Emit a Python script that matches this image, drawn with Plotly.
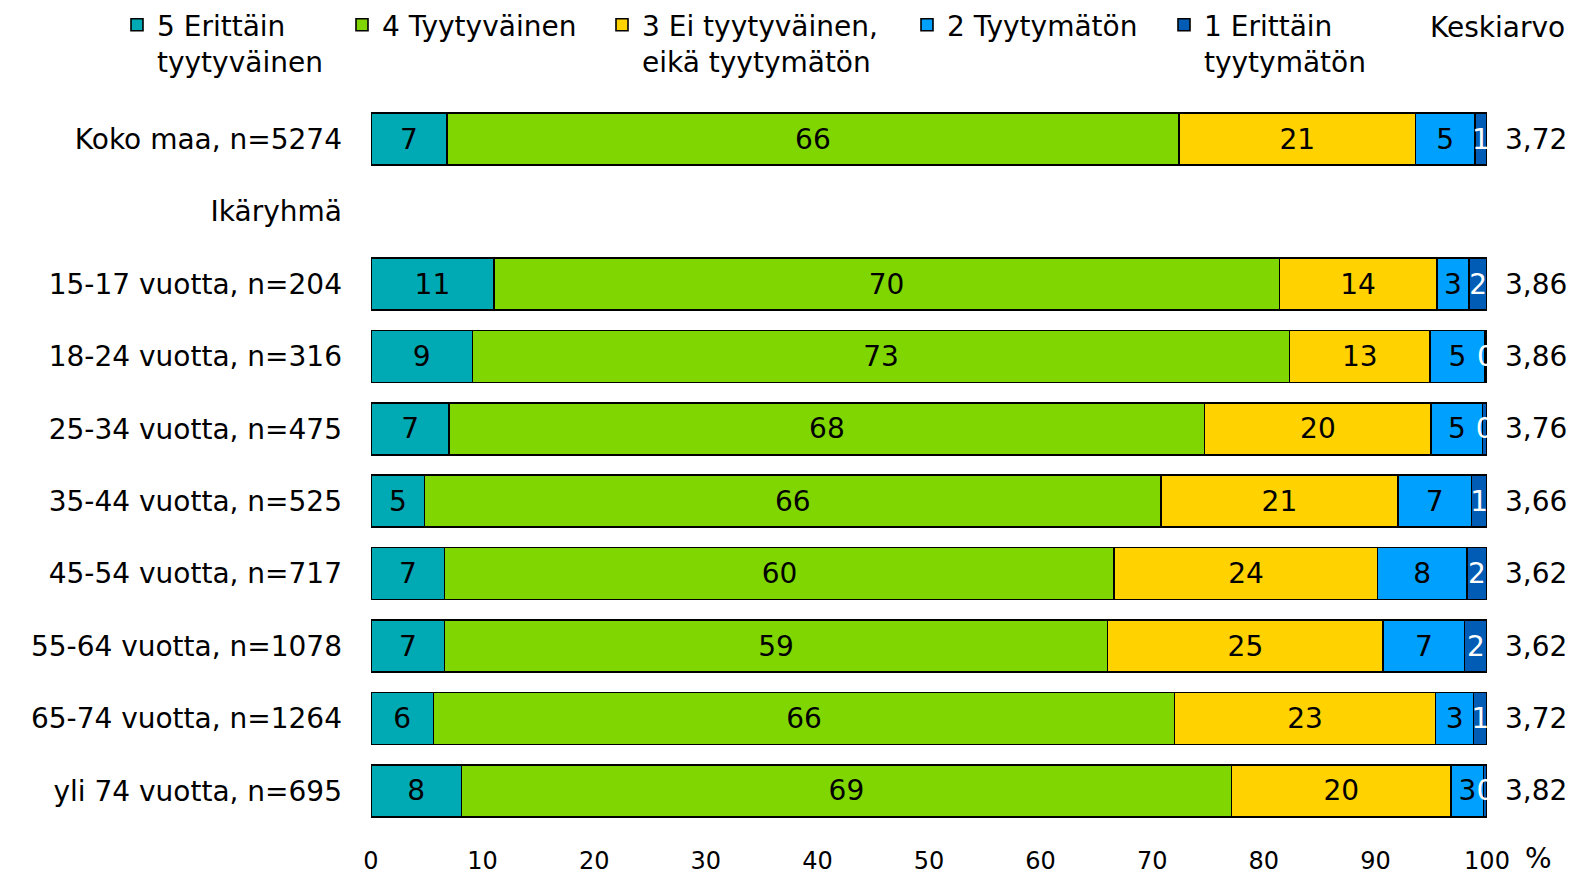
import plotly.graph_objects as go

categories = ["Koko maa, n=5274", "Ikäryhmä", "15-17 vuotta, n=204", "18-24 vuotta, n=316",
              "25-34 vuotta, n=475", "35-44 vuotta, n=525", "45-54 vuotta, n=717",
              "55-64 vuotta, n=1078", "65-74 vuotta, n=1264", "yli 74 vuotta, n=695"]

v5 = [6.8, None, 11.0, 9.1, 7.0, 4.8, 6.6, 6.6, 5.6, 8.1]
v4 = [65.6, None, 70.4, 73.2, 67.7, 66.0, 60.0, 59.4, 66.4, 69.0]
v3 = [21.2, None, 14.1, 12.6, 20.3, 21.2, 23.6, 24.7, 23.4, 19.7]
v2 = [5.3, None, 2.9, 4.9, 4.6, 6.6, 8.0, 7.3, 3.4, 2.9]
v1 = [1.1, None, 1.6, 0.2, 0.4, 1.4, 1.8, 2.0, 1.2, 0.3]
means = ["3,72", "", "3,86", "3,86", "3,76", "3,66", "3,62", "3,62", "3,72", "3,82"]

series_names = ["5 Erittäin<br>tyytyväinen", "4 Tyytyväinen", "3 Ei tyytyväinen,<br>eikä tyytymätön",
                "2 Tyytymätön", "1 Erittäin<br>tyytymätön"]
series_values = [v5, v4, v3, v2, v1]
colors = ["#00AAB4", "#80D600", "#FFD200", "#00A0FF", "#005CB4"]
text_colors = ["black", "black", "black", "black", "white"]
x_ticks = [0, 10, 20, 30, 40, 50, 60, 70, 80, 90, 100]

FONT = "DejaVu Sans, Verdana, sans-serif"
FS = 28

W, H = 1577, 875
L, R, T, B = 371, 90, 103, 48
pw = W - L - R
ph = H - T - B

fig = go.Figure()
legend_ids = ["legend", "legend2", "legend3", "legend4", "legend5"]
legend_px = [117, 342, 602, 907, 1164]

for name, vals, col, tc, lid in zip(series_names, series_values, colors, text_colors, legend_ids):
    fig.add_trace(go.Bar(
        y=categories, x=vals, name=name, orientation="h",
        marker=dict(color=col, line=dict(color="black", width=1.6)),
        text=vals, texttemplate="%{x:.0f}", textposition="inside",
        insidetextanchor="middle", textangle=0, constraintext="none",
        textfont=dict(color=tc, size=FS, family=FONT),
        cliponaxis=True, hoverinfo="skip", legend=lid,
    ))

for cat, m in zip(categories, means):
    if m:
        fig.add_annotation(x=1, xref="paper", y=cat, yref="y", text=m, showarrow=False,
                           xanchor="left", xshift=16, font=dict(size=FS, family=FONT, color="black"))

fig.add_annotation(x=1, xref="paper", y=1, yref="paper", text="Keskiarvo", showarrow=False,
                   xanchor="right", yanchor="middle", xshift=80, yshift=76,
                   font=dict(size=FS, family=FONT, color="black"))
fig.add_annotation(x=1, xref="paper", y=0, yref="paper", text="%", showarrow=False,
                   xanchor="left", yanchor="middle", xshift=36, yshift=-31,
                   font=dict(size=FS, family=FONT, color="black"))

layout_legends = {}
for lid, px in zip(legend_ids, legend_px):
    layout_legends[lid] = dict(
        x=(px - L) / pw, xanchor="left", y=1 + T / ph, yanchor="top",
        orientation="h", valign="top", bgcolor="rgba(0,0,0,0)",
        font=dict(size=FS, family=FONT, color="black"), traceorder="normal",
    )

fig.update_layout(
    width=W, height=H, barmode="stack", bargap=0.28,
    margin=dict(l=L, r=R, t=T, b=B, autoexpand=False),
    paper_bgcolor="white", plot_bgcolor="white",
    font=dict(family=FONT, size=FS, color="black"),
    showlegend=True,
    uniformtext=dict(mode=False),
    **layout_legends,
)
fig.update_xaxes(range=[0, 100], tickvals=x_ticks, ticktext=[str(t) for t in x_ticks],
                 showgrid=False, zeroline=False, showline=False, ticks="",
                 ticklabelstandoff=17, tickfont=dict(size=24, family=FONT))
fig.update_yaxes(categoryorder="array", categoryarray=categories, autorange="reversed",
                 showgrid=False, zeroline=False, showline=False, ticks="",
                 ticklabelstandoff=28, tickfont=dict(size=FS, family=FONT))

fig.write_html("out.html", config={"displayModeBar": False},
               post_script="document.body.style.margin='0';document.body.style.overflow='hidden';")
